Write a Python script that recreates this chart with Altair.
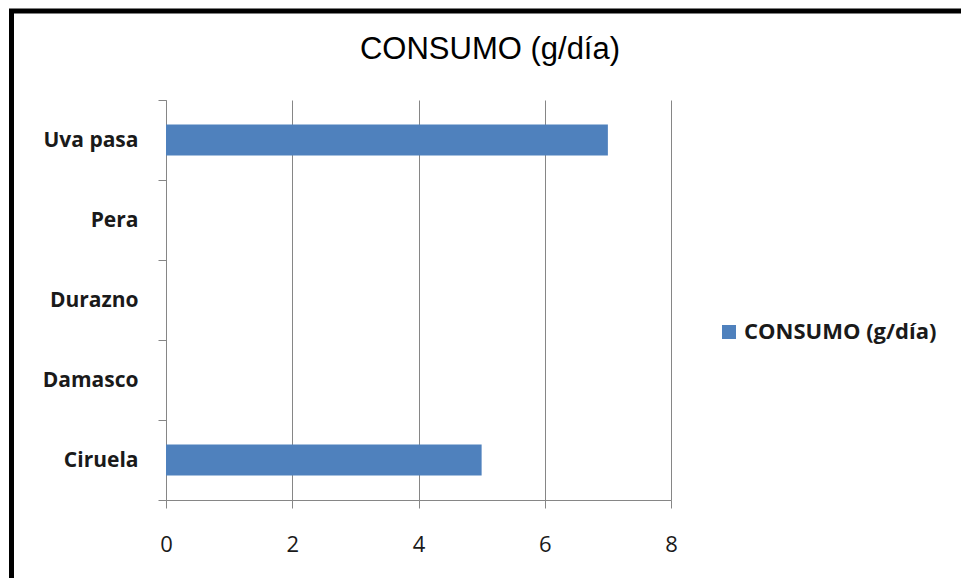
import altair as alt
import pandas as pd

# Daily consumption of dried fruit, grams per day
frutas = ["Uva pasa", "Pera", "Durazno", "Damasco", "Ciruela"]
consumo = [7, None, None, None, 5]
serie = "CONSUMO (g/día)"
titulo = "CONSUMO (g/día)"
x_ticks = [0, 2, 4, 6, 8]

df = pd.DataFrame({"fruta": frutas, "consumo": consumo, "serie": [serie] * len(frutas)})

GRAY = "#868686"
BLUE = "#4F81BD"
LABEL_FONT = "Open Sans"
TEXT = "#1a1a1a"

bars = alt.Chart(df).mark_bar(size=31).encode(
    x=alt.X(
        "consumo:Q",
        scale=alt.Scale(domain=[0, 8], nice=False),
        axis=alt.Axis(
            values=x_ticks,
            title=None,
            grid=True,
            gridColor=GRAY,
            gridWidth=1,
            domainColor=GRAY,
            tickColor=GRAY,
            tickSize=8,
            labelFont=LABEL_FONT,
            labelFontSize=22,
            labelColor=TEXT,
            labelPadding=26,
            labelFlush=False,
        ),
    ),
    y=alt.Y(
        "fruta:N",
        sort=frutas,
        scale=alt.Scale(domain=frutas, paddingInner=0, paddingOuter=0),
        axis=alt.Axis(
            title=None,
            tickBand="extent",
            tickSize=8,
            domainColor=GRAY,
            tickColor=GRAY,
            labelFont=LABEL_FONT,
            labelFontSize=21,
            labelFontWeight="bold",
            labelColor=TEXT,
            labelPadding=20,
        ),
    ),
    color=alt.Color(
        "serie:N",
        scale=alt.Scale(domain=[serie], range=[BLUE]),
        legend=alt.Legend(
            title=None,
            orient="none",
            legendX=552,
            legendY=221,
            symbolType="square",
            symbolSize=196,
            symbolStrokeWidth=0,
            labelFont=LABEL_FONT,
            labelFontSize=22,
            labelFontWeight="bold",
            labelColor=TEXT,
            labelOffset=4,
            labelLimit=400,
            padding=0,
        ),
    ),
)

# Outer black frame around the chart object
frame = alt.Chart(alt.Data(values=[{}])).mark_rect(
    filled=False, stroke="black", strokeWidth=5
).encode(
    x=alt.value(-154.5),
    y=alt.value(-89),
    x2=alt.value(961 - 166 + 20),
    y2=alt.value(578 - 100 + 20),
)

# Chart title, centred over the whole chart object
title = alt.Chart(alt.Data(values=[{"t": titulo}])).mark_text(
    font="Liberation Sans",
    fontSize=31,
    color="black",
    align="center",
    baseline="alphabetic",
).encode(
    text="t:N",
    x=alt.value(324),
    y=alt.value(-41),
)

chart = alt.layer(bars, frame, title).properties(
    width=505,
    height=400,
    autosize=alt.AutoSizeParams(type="none"),
    padding={"left": 166, "top": 100, "right": 290, "bottom": 78},
    background="white",
).configure_view(stroke=None)

chart.save("out.html", embed_options={"renderer": "svg", "actions": False})
